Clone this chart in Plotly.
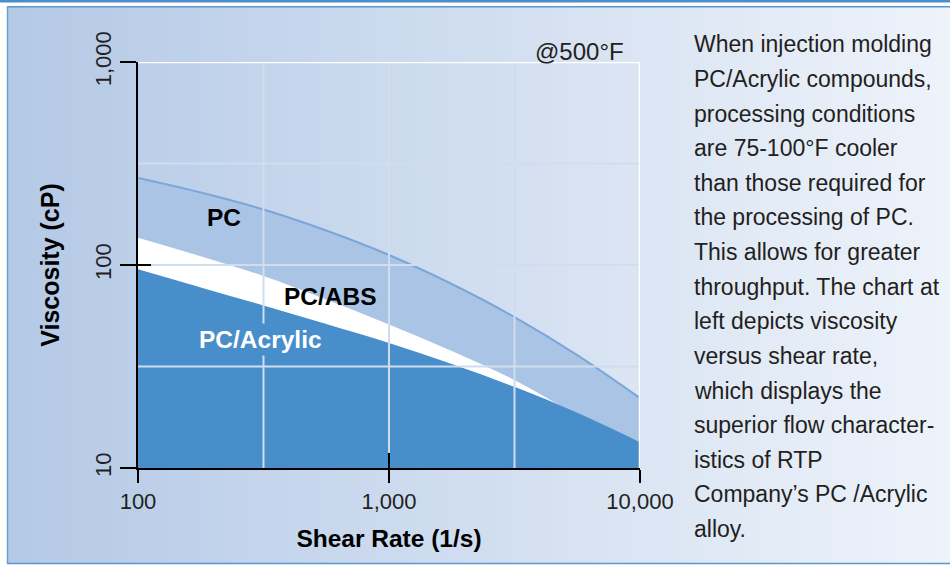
import math
import plotly.graph_objects as go

# ---------------- data ----------------
shear_rate = [100, 177.8, 316.2, 562.3, 1000, 1778, 3162, 5623, 10000]
visc_pc = [268.3, 227.6, 187.7, 147.9, 112.0, 80.6, 55.4, 36.0, 22.1]
visc_pc_abs = [136.3, 110.4, 88.3, 67.6, 50.9, 37.7, 27.1, 18.1, 12.0]
visc_pc_acrylic = [95.2, 77.5, 63.2, 51.2, 41.3, 32.5, 25.1, 18.7, 13.4]

x_tickvals = [100, 1000, 10000]
x_ticktext = ["100", "1,000", "10,000"]
y_tickvals = [10, 100, 1000]
y_ticktext = ["10", "100", "1,000"]
x_gridvals = [316.2, 1000, 3162]
y_gridvals = [31.62, 100, 316.2]
x_range = [100, 10000]
y_range = [10, 1000]

series_labels = ["PC", "PC/ABS", "PC/Acrylic"]
label_x = [220, 582, 309]
label_y = [171, 70.3, 43.2]

side_text = [
    "When injection molding",
    "PC/Acrylic compounds,",
    "processing conditions",
    "are 75-100°F cooler",
    "than those required for",
    "the processing of PC.",
    "This allows for greater",
    "throughput. The chart at",
    "left depicts viscosity",
    "versus shear rate,",
    "which displays the",
    "superior flow character-",
    "istics of RTP",
    "Company’s PC /Acrylic",
    "alloy.",
]

# ---------------- style ----------------
W, H = 950, 566
ML, MR, MT, MB = 138, 310, 62, 98
PW, PH = W - ML - MR, H - MT - MB
FONT = "Liberation Sans, Arial, sans-serif"
C_PC = "#aac4e6"
C_PC_LINE = "#7aa6da"
C_ACR = "#478ecb"
C_GRID = "#d0ddef"
TXT = "#231f20"


def px_x(x):
    return (x - ML) / PW


def px_y(y):
    return (H - MB - y) / PH


fig = go.Figure()

base = [y_range[0]] * len(shear_rate)

# PC band
fig.add_trace(go.Scatter(x=shear_rate, y=base, mode="lines", line=dict(width=0),
                         hoverinfo="skip", showlegend=False))
fig.add_trace(go.Scatter(x=shear_rate, y=visc_pc, mode="lines", name="PC",
                         line=dict(color=C_PC_LINE, width=2, shape="spline"),
                         fill="tonexty", fillcolor=C_PC, showlegend=False))
# PC/ABS
fig.add_trace(go.Scatter(x=shear_rate, y=base, mode="lines", line=dict(width=0),
                         hoverinfo="skip", showlegend=False))
fig.add_trace(go.Scatter(x=shear_rate, y=visc_pc_abs, mode="lines", name="PC/ABS",
                         line=dict(color="white", width=0, shape="spline"),
                         fill="tonexty", fillcolor="white", showlegend=False))
# PC/Acrylic
fig.add_trace(go.Scatter(x=shear_rate, y=base, mode="lines", line=dict(width=0),
                         hoverinfo="skip", showlegend=False))
fig.add_trace(go.Scatter(x=shear_rate, y=visc_pc_acrylic, mode="lines", name="PC/Acrylic",
                         line=dict(color=C_ACR, width=0, shape="spline"),
                         fill="tonexty", fillcolor=C_ACR, showlegend=False))

# grid lines drawn above the fills
gx, gy = [], []
for v in x_gridvals:
    gx += [v, v, None]
    gy += [y_range[0], y_range[1], None]
for v in y_gridvals:
    gx += [x_range[0], x_range[1], None]
    gy += [v, v, None]
fig.add_trace(go.Scatter(x=gx, y=gy, mode="lines", line=dict(color=C_GRID, width=2),
                         hoverinfo="skip", showlegend=False))
# white frame top / right
fig.add_trace(go.Scatter(x=[x_range[0], x_range[1], x_range[1]],
                         y=[y_range[1], y_range[1], y_range[0]], mode="lines",
                         line=dict(color="white", width=2.5), hoverinfo="skip",
                         showlegend=False))
# dummy on overlay axes (inside ticks)
fig.add_trace(go.Scatter(x=[None], y=[None], xaxis="x2", yaxis="y2",
                         showlegend=False, hoverinfo="skip"))

# background gradient + borders
shapes = []
N = 64
x0p, x1p = 7.5, 950
c0 = (180, 201, 230)
c1 = (238, 243, 250)
for i in range(N):
    a = x0p + (x1p - x0p) * i / N
    b = x0p + (x1p - x0p) * (i + 1) / N + 0.8
    t = (i + 0.5) / N
    col = "rgb(%d,%d,%d)" % tuple(round(c0[k] + (c1[k] - c0[k]) * t) for k in range(3))
    shapes.append(dict(type="rect", xref="paper", yref="paper", layer="below",
                       x0=px_x(a), x1=px_x(b), y0=px_y(563), y1=px_y(7),
                       fillcolor=col, line=dict(width=0)))
shapes.append(dict(type="rect", xref="paper", yref="paper", layer="below",
                   x0=px_x(0), x1=px_x(W), y0=px_y(2.5), y1=px_y(0),
                   fillcolor="#4d8dcc", line=dict(width=0)))
shapes.append(dict(type="line", xref="paper", yref="paper", layer="below",
                   x0=px_x(7), x1=px_x(W), y0=px_y(6.8), y1=px_y(6.8),
                   line=dict(color="#5b96d0", width=1.5)))
shapes.append(dict(type="line", xref="paper", yref="paper", layer="below",
                   x0=px_x(7.5), x1=px_x(7.5), y0=px_y(6.5), y1=px_y(563.5),
                   line=dict(color="#6a9fd4", width=1.5)))
shapes.append(dict(type="line", xref="paper", yref="paper", layer="below",
                   x0=px_x(7), x1=px_x(W), y0=px_y(563.5), y1=px_y(563.5),
                   line=dict(color="#5b96d0", width=1.5)))

annotations = []
# series labels
lab_colors = ["black", "black", "white"]
for i, lab in enumerate(series_labels):
    ann = dict(x=math.log10(label_x[i]), y=math.log10(label_y[i]), xref="x", yref="y",
               text="<b>%s</b>" % lab, showarrow=False,
               font=dict(family=FONT, size=24.5, color=lab_colors[i]))
    if i == 2:
        ann.update(bgcolor=C_ACR, borderpad=2)
    annotations.append(ann)
annotations.append(dict(x=px_x(626), y=px_y(52), xref="paper", yref="paper",
                        xanchor="right", yanchor="middle", text="@500°F",
                        showarrow=False, font=dict(family=FONT, size=24, color=TXT)))
for n, line in enumerate(side_text):
    annotations.append(dict(x=px_x(692), y=px_y(44.5 + 34.6 * n), xref="paper",
                            yref="paper", xanchor="left", yanchor="middle", text=line,
                            showarrow=False, font=dict(family=FONT, size=23, color=TXT)))

axis_common = dict(type="log", showgrid=False, zeroline=False, tickcolor="black",
                   tickwidth=2, layer="above traces")

fig.update_layout(
    width=W, height=H,
    margin=dict(l=ML, r=MR, t=MT, b=MB, pad=0, autoexpand=False),
    paper_bgcolor="white",
    plot_bgcolor="rgba(0,0,0,0)",
    showlegend=False,
    shapes=shapes,
    annotations=annotations,
    font=dict(family=FONT, color=TXT),
    xaxis=dict(axis_common, range=[math.log10(x_range[0]), math.log10(x_range[1])],
               tickvals=x_tickvals, ticktext=x_ticktext, ticks="outside", ticklen=13,
               showline=True, linecolor="black", linewidth=2, automargin=False,
               tickfont=dict(family=FONT, size=22, color=TXT),
               title=dict(text="<b>Shear Rate (1/s)</b>", standoff=16,
                          font=dict(family=FONT, size=24.5, color="black"))),
    yaxis=dict(axis_common, range=[math.log10(y_range[0]), math.log10(y_range[1])],
               tickvals=y_tickvals, ticktext=y_ticktext, ticks="outside", ticklen=16,
               tickangle=-90, automargin=False,
               showline=True, linecolor="black", linewidth=2,
               tickfont=dict(family=FONT, size=22, color=TXT),
               title=dict(text="<b>Viscosity (cP)</b>", standoff=24,
                          font=dict(family=FONT, size=25, color="black"))),
    xaxis2=dict(axis_common, overlaying="x", anchor="y", side="bottom",
                range=[math.log10(x_range[0]), math.log10(x_range[1])],
                tickvals=x_tickvals, ticks="inside", ticklen=15, showticklabels=False,
                showline=False),
    yaxis2=dict(axis_common, overlaying="y", anchor="x", side="left",
                range=[math.log10(y_range[0]), math.log10(y_range[1])],
                tickvals=y_tickvals, ticks="inside", ticklen=13, showticklabels=False,
                showline=False),
)

fig.write_html("out.html", config={"displayModeBar": False},
               post_script="document.body.style.margin='0';document.body.style.overflow='hidden';")
